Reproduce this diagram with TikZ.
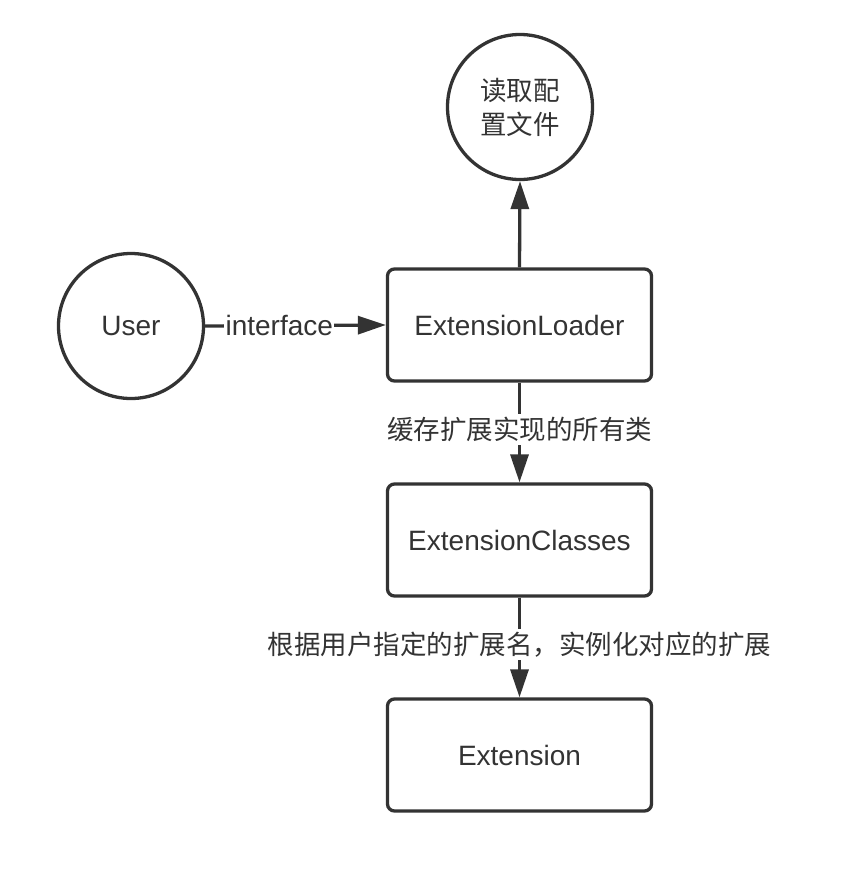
\documentclass[tikz,border=0pt]{standalone}
\usepackage{fontspec}
\setmainfont{Liberation Sans}
\newfontfamily\cjk{Noto Sans CJK SC}
\usetikzlibrary{arrows.meta,positioning}
\definecolor{ink}{HTML}{333333}
\tikzset{
  latin/.style={font=\fontsize{28}{32}\selectfont, text=ink},
  cjklabel/.style={font=\cjk\fontsize{26.5}{34}\selectfont, text=ink},
  roundnode/.style={circle, draw=ink, line width=3.3pt, minimum size=145pt, inner sep=0pt},
  boxnode/.style={rectangle, draw=ink, line width=3.3pt, rounded corners=7pt, minimum width=264pt, minimum height=112pt, inner sep=0pt},
  conn/.style={draw=ink, line width=3.3pt, -{Triangle[length=28pt,width=18pt]}},
  edgelabel/.style={fill=white, inner sep=3pt}
}
\begin{document}
\begin{tikzpicture}[x=1pt,y=-1pt]
\useasboundingbox (0,0) rectangle (858,870);
\node[roundnode, cjklabel, align=center] (cfg) at (520,107) {读取配\\置文件};
\node[roundnode, latin] (user) at (131,326) {User};
\node[boxnode, latin] (loader) at (519.5,325) {ExtensionLoader};
\node[boxnode, latin] (classes) at (519.5,540) {ExtensionClasses};
\node[boxnode, latin] (ext) at (519.5,755) {Extension};
\draw[conn] (loader.north) -- (cfg.south);
\draw[conn] (user.east) -- node[edgelabel, latin, inner sep=1.5pt, pos=0.41] {interface} (loader.west);
\draw[conn] (loader.south) -- node[edgelabel, cjklabel, pos=0.47] {缓存扩展实现的所有类} (classes.north);
\draw[conn] (classes.south) -- node[edgelabel, cjklabel, pos=0.47] {根据用户指定的扩展名，实例化对应的扩展} (ext.north);
\end{tikzpicture}
\end{document}
